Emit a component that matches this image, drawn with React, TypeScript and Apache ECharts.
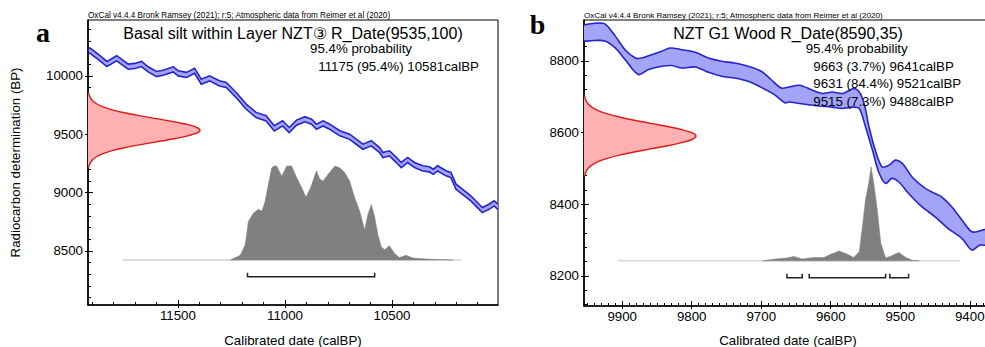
import React, { useEffect, useRef } from "react";
import * as echarts from "echarts";

type Pt = [number, number];

const FONT = '"Liberation Sans", Arial, Helvetica, sans-serif';
const SERIF = '"Liberation Serif", "Times New Roman", serif';

// ---------------- Panel a ----------------
const titleA = "Basal silt within Layer NZT\u2462 R_Date(9535,100)";
const dateA = { mean: 9535, sd: 100 };
const rangesA: [number, number, number][] = [[11175, 10581, 95.4]];
const xTicksA = [10500, 11000, 11500];
const yTicksA = [8500, 9000, 9500, 10000];
// calibration curve centre [calBP, BP]
const curveA: Pt[] = [
  [11916, 10217], [11910, 10217], [11864, 10152], [11832, 10103], [11786, 10152],
  [11732, 10080], [11701, 10086], [11670, 10103], [11639, 10057], [11600, 10017],
  [11569, 10028], [11522, 10057], [11499, 10023], [11460, 10009], [11422, 10045],
  [11391, 9951], [11352, 9980], [11306, 9937], [11274, 9923], [11228, 9837],
  [11181, 9737], [11135, 9666], [11088, 9637], [11050, 9551], [11011, 9594],
  [10980, 9537], [10946, 9600], [10907, 9629], [10876, 9608], [10853, 9565],
  [10822, 9594], [10791, 9565], [10744, 9509], [10698, 9479], [10667, 9437],
  [10636, 9394], [10597, 9423], [10558, 9365], [10543, 9322], [10512, 9337],
  [10480, 9280], [10457, 9237], [10427, 9280], [10395, 9237], [10357, 9208],
  [10326, 9200], [10307, 9179], [10287, 9208], [10248, 9166], [10225, 9151],
  [10201, 9051], [10171, 9008], [10132, 8951], [10101, 8894], [10078, 8851],
  [10047, 8879], [10023, 8908], [10006, 8879],
];
const curveErrA = 22;
// calibrated probability [calBP, relative density]
const probA: Pt[] = [
  [11256, 0], [11209, 0.05], [11186, 0.16], [11171, 0.41], [11147, 0.5],
  [11124, 0.54], [11108, 0.52], [11093, 0.62], [11078, 0.8], [11062, 0.98],
  [11050, 1.0], [11039, 1.0], [11015, 0.89], [10992, 1.0], [10969, 1.0],
  [10946, 0.88], [10922, 0.77], [10902, 0.67], [10880, 0.77], [10853, 0.95],
  [10837, 0.86], [10822, 0.84], [10799, 0.91], [10767, 1.0], [10744, 0.98],
  [10721, 0.93], [10698, 0.84], [10674, 0.66], [10651, 0.52], [10628, 0.32],
  [10613, 0.48], [10597, 0.59], [10581, 0.46], [10566, 0.27], [10550, 0.14],
  [10535, 0.11], [10512, 0.15], [10488, 0.07], [10465, 0.025], [10434, 0.05],
  [10403, 0.02], [10341, 0.01], [10217, 0],
];
const probSpanA: Pt = [11759, 10176];

// ---------------- Panel b ----------------
const titleB = "NZT G1 Wood R_Date(8590,35)";
const dateB = { mean: 8590, sd: 35 };
const rangesB: [number, number, number][] = [
  [9663, 9641, 3.7],
  [9631, 9521, 84.4],
  [9515, 9488, 7.3],
];
const xTicksB = [9400, 9500, 9600, 9700, 9800, 9900];
const yTicksB = [8200, 8400, 8600, 8800];
const curveUpperB: Pt[] = [
  [9955, 8900], [9939, 8905], [9925, 8903], [9910, 8869], [9896, 8831],
  [9881, 8808], [9872, 8808], [9857, 8818], [9843, 8827], [9831, 8836],
  [9814, 8831], [9795, 8824], [9776, 8808], [9757, 8799], [9738, 8794],
  [9719, 8785], [9700, 8771], [9686, 8748], [9671, 8724], [9660, 8727],
  [9645, 8732], [9626, 8718], [9612, 8709], [9598, 8713], [9583, 8709],
  [9567, 8723], [9559, 8713], [9552, 8681], [9545, 8616], [9536, 8551],
  [9526, 8504], [9516, 8509], [9507, 8523], [9497, 8514], [9483, 8476],
  [9464, 8444], [9450, 8430], [9440, 8420], [9426, 8393], [9411, 8355],
  [9397, 8323], [9385, 8326], [9370, 8335],
];
const curveLowerB: Pt[] = [
  [9955, 8855], [9939, 8857], [9924, 8855], [9910, 8836], [9896, 8804],
  [9877, 8762], [9862, 8776], [9843, 8785], [9829, 8787], [9814, 8780],
  [9795, 8783], [9776, 8768], [9757, 8757], [9738, 8752], [9719, 8743],
  [9700, 8726], [9681, 8706], [9666, 8683], [9660, 8685], [9645, 8681],
  [9626, 8676], [9598, 8671], [9583, 8667], [9569, 8671], [9559, 8667],
  [9550, 8616], [9540, 8551], [9531, 8490], [9521, 8458], [9512, 8472],
  [9502, 8462], [9488, 8430], [9469, 8393], [9450, 8365], [9431, 8332],
  [9411, 8304], [9397, 8272], [9385, 8286], [9370, 8282],
];
const probB: Pt[] = [
  [9698, 0], [9679, 0.02], [9664, 0.03], [9653, 0.047], [9641, 0.02],
  [9624, 0.036], [9610, 0.036], [9600, 0.07], [9588, 0.106], [9576, 0.07],
  [9567, 0.036], [9559, 0.096], [9555, 0.33], [9550, 0.65], [9545, 0.84],
  [9542, 1.0], [9538, 0.82], [9533, 0.54], [9528, 0.19], [9521, 0.03],
  [9514, 0.05], [9502, 0.09], [9493, 0.04], [9483, 0.007], [9473, 0],
];
const probSpanB: Pt = [9906, 9414];

// radiocarbon date shape (sigma offset, relative density)
const redSigma = [-3.2, -3, -2.75, -2.5, -2.25, -2, -1.75, -1.5, -1.25, -1, -0.75, -0.5, -0.25, 0,
  0.25, 0.5, 0.75, 1, 1.25, 1.5, 1.75, 2, 2.25, 2.5, 2.75, 3, 3.2];
const redDensity = [0.006, 0.011, 0.023, 0.044, 0.08, 0.135, 0.216, 0.325, 0.458, 0.607, 0.755, 0.882, 0.969, 1,
  0.969, 0.882, 0.755, 0.607, 0.458, 0.325, 0.216, 0.135, 0.08, 0.044, 0.023, 0.011, 0.006];

// ---------------- layout / style constants ----------------
const EXT = {
  a: { x: [10005, 11920], y: [8037, 10480] },
  b: { x: [9368, 9955], y: [8116, 8914] },
};
const PROB_BASE = { a: 8423, b: 8242 };
const BRACKET_Y = { a: 8280, b: 8195 };
const RED_W = 112; // px
const PROB_H = 94; // px
const BAND_FILL = "#a3a3f7";
const BAND_STROKE = "#2424cc";
const RED_FILL = "#ffb0b0";
const RED_STROKE = "#dd1a1a";
const GREY = "#808080";

function bandSeries(axis: number, upper: Pt[], lower: Pt[], smooth: number) {
  return {
    type: "custom",
    xAxisIndex: axis,
    yAxisIndex: axis,
    silent: true,
    clip: true,
    z: 3,
    data: [upper[0]],
    renderItem: (_p: any, api: any) => {
      const up = upper.map((p) => api.coord(p));
      const lo = lower.map((p) => api.coord(p));
      return {
        type: "group",
        children: [
          { type: "polygon", shape: { points: up.concat(lo.slice().reverse()), smooth }, style: { fill: BAND_FILL, stroke: "none" } },
          { type: "polyline", shape: { points: up, smooth }, style: { fill: "none", stroke: BAND_STROKE, lineWidth: 1.6 } },
          { type: "polyline", shape: { points: lo, smooth }, style: { fill: "none", stroke: BAND_STROKE, lineWidth: 1.6 } },
        ],
      };
    },
  };
}

function redSeries(axis: number, xLeft: number, date: { mean: number; sd: number }) {
  return {
    type: "custom",
    xAxisIndex: axis,
    yAxisIndex: axis,
    silent: true,
    clip: true,
    z: 2,
    data: [[xLeft, date.mean]],
    renderItem: (_p: any, api: any) => {
      const pts = redSigma.map((s, i) => {
        const c = api.coord([xLeft, date.mean + s * date.sd]);
        return [c[0] + redDensity[i] * RED_W, c[1]];
      });
      const first = api.coord([xLeft, date.mean + redSigma[0] * date.sd]);
      const last = api.coord([xLeft, date.mean + redSigma[redSigma.length - 1] * date.sd]);
      return {
        type: "group",
        children: [
          { type: "polygon", shape: { points: [first, ...pts, last], smooth: 0.3 }, style: { fill: RED_FILL, stroke: "none" } },
          { type: "polyline", shape: { points: pts, smooth: 0.3 }, style: { fill: "none", stroke: RED_STROKE, lineWidth: 1.4 } },
        ],
      };
    },
  };
}

function probSeries(axis: number, prob: Pt[], base: number, span: Pt, ranges: [number, number, number][], bracketY: number) {
  return {
    type: "custom",
    xAxisIndex: axis,
    yAxisIndex: axis,
    silent: true,
    clip: true,
    z: 2,
    data: [[prob[0][0], base]],
    renderItem: (_p: any, api: any) => {
      const pts = prob.map(([x, h]) => {
        const c = api.coord([x, base]);
        return [c[0], c[1] - h * PROB_H];
      });
      const b0 = api.coord([span[0], base]);
      const b1 = api.coord([span[1], base]);
      const children: any[] = [
        { type: "line", shape: { x1: b0[0], y1: b0[1], x2: b1[0], y2: b1[1] }, style: { stroke: "#d6d6d6", lineWidth: 1.5 } },
        { type: "polygon", shape: { points: pts }, style: { fill: GREY, stroke: GREY, lineWidth: 0.5 } },
      ];
      ranges.forEach(([r0, r1]) => {
        const p0 = api.coord([r0, bracketY]);
        const p1 = api.coord([r1, bracketY]);
        children.push({
          type: "polyline",
          shape: { points: [[p0[0], p0[1] - 4], p0, p1, [p1[0], p1[1] - 4]] },
          style: { fill: "none", stroke: "#222", lineWidth: 1.5 },
        });
      });
      return { type: "group", children };
    },
  };
}

function axes(kind: "x" | "y", grid: number, ext: number[], ticks: number[], minorSplit: number, inverse: boolean, name?: string, nameGap?: number) {
  const iv = Math.abs(ticks[1] - ticks[0]);
  const common = {
    type: "value",
    gridIndex: grid,
    min: ext[0],
    max: ext[1],
    inverse,
    minInterval: iv,
    maxInterval: iv,
    splitNumber: 4,
    position: kind === "x" ? "bottom" : "left",
    splitLine: { show: false },
    minorSplitLine: { show: false },
  };
  const main = {
    ...common,
    axisLine: { show: true, onZero: false, lineStyle: { color: "#000", width: 1.6 } },
    axisTick: { show: true, inside: true, length: 5, lineStyle: { color: "#000", width: 1 }, customValues: ticks },
    minorTick: { show: false },
    axisLabel: {
      show: true, color: "#000", fontSize: 13.3, fontFamily: FONT,
      margin: kind === "x" ? 4 : 5, customValues: ticks,
      formatter: (v: number) => String(v),
    },
    name: name || "",
    nameLocation: "middle",
    nameGap: nameGap || 0,
    nameTextStyle: { color: "#000", fontSize: 13.3, fontFamily: FONT },
  };
  const outer = {
    ...common,
    axisLine: { show: false, onZero: false },
    axisTick: { show: true, inside: false, length: 3, lineStyle: { color: "#000", width: 1 }, customValues: ticks },
    minorTick: { show: false },
    axisLabel: { show: false },
  };
  const minor = {
    ...common,
    axisLine: { show: false, onZero: false },
    axisTick: { show: false, inside: true },
    minorTick: { show: true, splitNumber: minorSplit, length: 3, lineStyle: { color: "#000", width: 1 } },
    axisLabel: { show: false },
  };
  return [main, outer, minor];
}

function txt(x: number, y: number, text: string, size: number, align: string, font = FONT, weight = "normal") {
  return {
    type: "text",
    x,
    y,
    z: 10,
    silent: true,
    style: {
      text,
      fill: "#000",
      fontSize: size,
      fontFamily: font,
      fontWeight: weight,
      font: `${weight} ${size}px ${font}`,
      textAlign: align,
      align,
      textVerticalAlign: "middle",
      verticalAlign: "middle",
    },
  };
}

const OXCAL = "OxCal v4.4.4 Bronk Ramsey (2021); r:5; Atmospheric data from Reimer et al (2020)";

export default function App() {
  const ref = useRef<HTMLDivElement>(null);
  useEffect(() => {
    if (!ref.current) return;
    const chart = echarts.init(ref.current, undefined, { renderer: "svg" });
    const xA = axes("x", 0, EXT.a.x, xTicksA, 5, true, "Calibrated date (calBP)", 29);
    const xB = axes("x", 1, EXT.b.x, xTicksB, 10, true, "Calibrated date (calBP)", 28);
    const yA = axes("y", 0, EXT.a.y, yTicksA, 5, false, "Radiocarbon determination (BP)", 66);
    const yB = axes("y", 1, EXT.b.y, yTicksB, 5, false);

    const gridA = { left: 88, top: 20, width: 410, height: 285 };
    const gridB = { left: 584, top: 20, width: 408, height: 286 };

    const graphics: any[] = [
      txt(43, 32, "a", 28, "center", SERIF, "bold"),
      txt(537.5, 24, "b", 28, "center", SERIF, "bold"),
      txt(gridA.left, 15.6, OXCAL, 8.2, "left"),
      txt(gridB.left, 15.6, OXCAL, 8.1, "left"),
      txt(gridA.left + gridA.width / 2, 33, titleA, 16, "center"),
      txt(gridB.left + gridB.width / 2, 33, titleB, 16, "center"),
      txt(310, 48.5, "95.4% probability", 13.3, "left"),
      txt(805.7, 48.5, "95.4% probability", 13.3, "left"),
    ];
    rangesA.forEach((r, i) => graphics.push(txt(318.3, 66 + i * 17.5, `${r[0]} (${r[2]}%) ${r[1]}calBP`, 13.3, "left")));
    rangesB.forEach((r, i) => graphics.push(txt(813.3, 66 + i * 17.5, `${r[0]} (${r[2]}%) ${r[1]}calBP`, 13.3, "left")));

    const bandA = {
      upper: curveA.map(([x, y]) => [x, y + curveErrA] as Pt),
      lower: curveA.map(([x, y]) => [x, y - curveErrA] as Pt),
    };

    chart.setOption({
      animation: false,
      tooltip: { show: false },
      grid: [
        { ...gridA, show: true, borderColor: "#000", borderWidth: 1, backgroundColor: "transparent", containLabel: false, outerBoundsMode: "none" },
        { ...gridB, show: true, borderColor: "#000", borderWidth: 1, backgroundColor: "transparent", containLabel: false, outerBoundsMode: "none" },
      ],
      // indices 0,1 are the labelled axes used by the series
      xAxis: [xA[0], xB[0], xA[1], xB[1], xA[2], xB[2]],
      yAxis: [yA[0], yB[0], yA[1], yB[1], yA[2], yB[2]],
      graphic: graphics,
      series: [
        probSeries(0, probA, PROB_BASE.a, probSpanA, rangesA, BRACKET_Y.a),
        redSeries(0, EXT.a.x[1], dateA),
        bandSeries(0, bandA.upper, bandA.lower, 0),
        probSeries(1, probB, PROB_BASE.b, probSpanB, rangesB, BRACKET_Y.b),
        redSeries(1, EXT.b.x[1], dateB),
        bandSeries(1, curveUpperB, curveLowerB, 0.3),
      ],
    });
    return () => chart.dispose();
  }, []);
  return <div ref={ref} style={{ position: "absolute", left: 0, top: 0, width: 985, height: 347, background: "#fff" }} />;
}
